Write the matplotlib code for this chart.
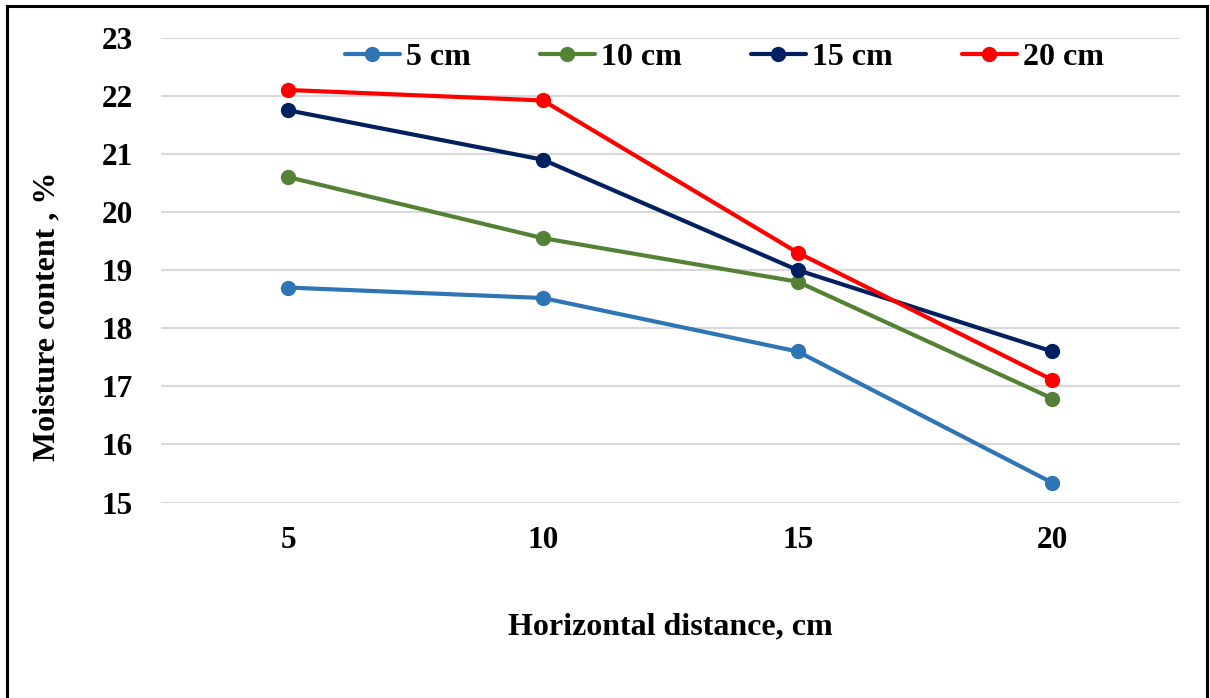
import numpy as np
import matplotlib
matplotlib.use("Agg")
import matplotlib.pyplot as plt
from matplotlib.patches import Rectangle

plt.rcParams["font.family"] = ["Liberation Serif", "DejaVu Serif"]
plt.rcParams["font.weight"] = "bold"

# horizontal distance categories and moisture content at each depth
distance = ["5", "10", "15", "20"]
depth_5 = [18.70, 18.52, 17.60, 15.34]
depth_10 = [20.60, 19.55, 18.80, 16.79]
depth_15 = [21.75, 20.90, 19.00, 17.60]
depth_20 = [22.10, 21.92, 19.30, 17.11]

series = [
    ("5 cm", depth_5, "#2E75B6"),
    ("10 cm", depth_10, "#548235"),
    ("15 cm", depth_15, "#002060"),
    ("20 cm", depth_20, "#FF0000"),
]

fig = plt.figure(figsize=(12.1, 6.98), dpi=100)
ax = fig.add_axes([0.133, 0.28, 0.842, 0.666])

x = np.arange(len(distance))
for name, vals, color in series:
    ax.plot(x, vals, color=color, linewidth=3, marker="o", markersize=10,
            solid_capstyle="round", label=name)

ax.set_xlim(-0.5, len(distance) - 0.5)
ax.set_ylim(15, 23)
ax.set_yticks(range(15, 24))
ax.set_xticks(x)
ax.set_xticklabels(distance)

ax.grid(axis="y", color="#D9D9D9", linewidth=1.5)
ax.set_axisbelow(True)
for side in ax.spines.values():
    side.set_visible(False)
ax.tick_params(axis="both", length=0, labelsize=22.5)
ax.tick_params(axis="y", pad=20)
ax.tick_params(axis="x", pad=17)

ax.set_xlabel("Horizontal distance, cm", fontsize=23, fontweight="bold", va="center")
ax.xaxis.set_label_coords(0.5, -0.268)
ax.set_ylabel("Moisture content , %", fontsize=23, fontweight="bold", va="center")
ax.yaxis.set_label_coords(-0.112, 0.40)

ax.legend(loc="center", bbox_to_anchor=(0.553, 0.958), ncol=4, frameon=False,
          fontsize=23, handlelength=1.73, handletextpad=0.2, columnspacing=2.15)

# outer frame around the chart (bottom edge runs off the canvas)
fig.patches.append(Rectangle((7 / 1210, -10 / 698), 1200 / 1210, 702 / 698,
                             transform=fig.transFigure, fill=False,
                             edgecolor="black", linewidth=2.2))

fig.savefig("out.png", dpi=100)
